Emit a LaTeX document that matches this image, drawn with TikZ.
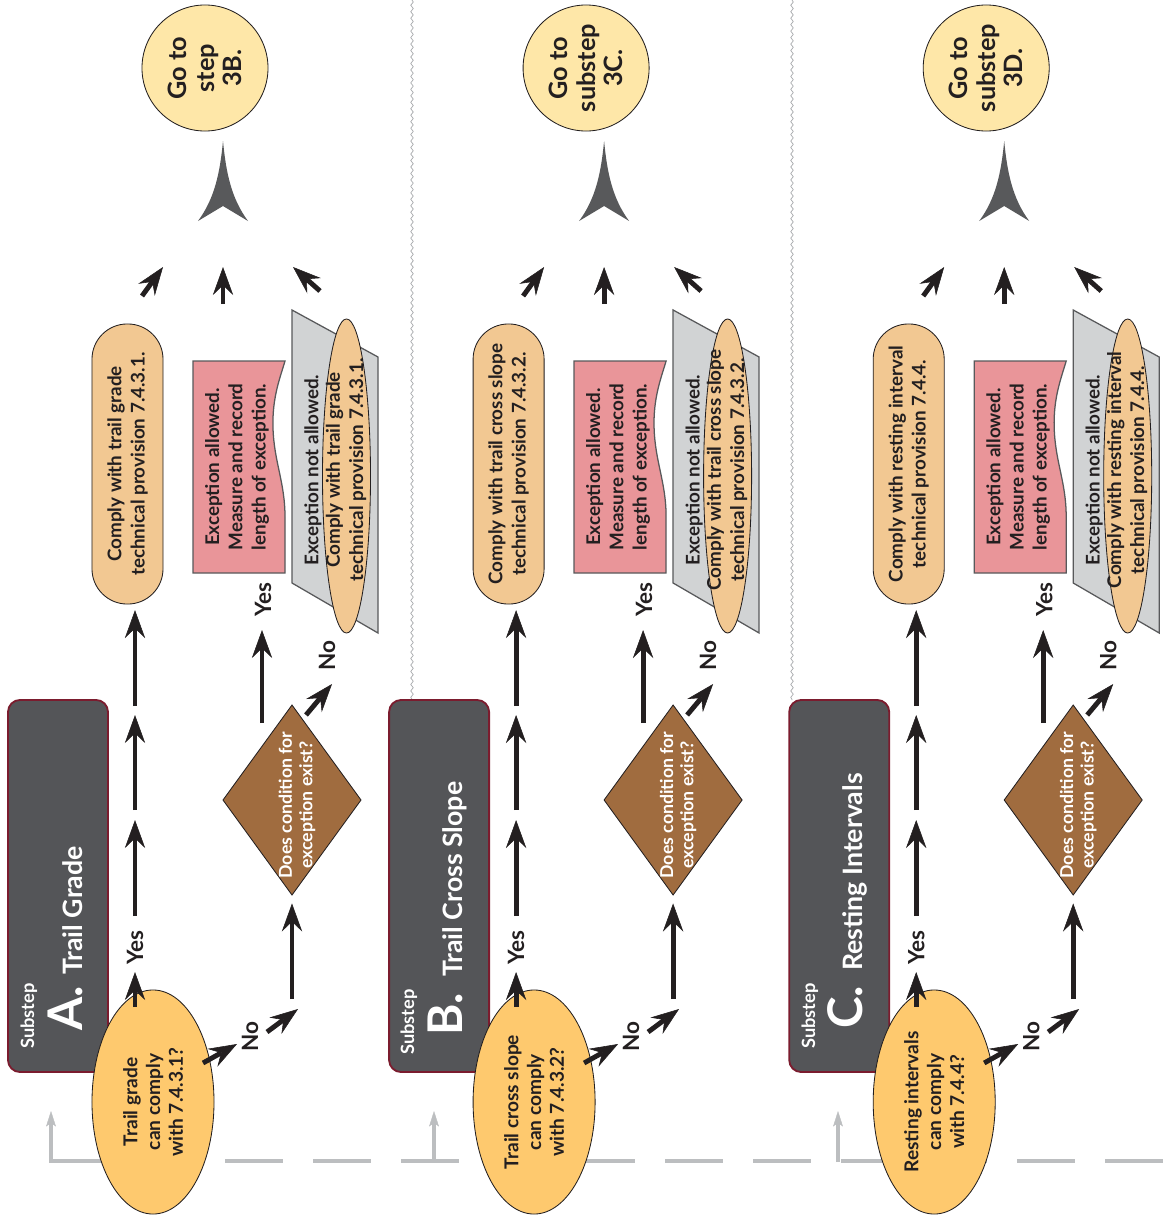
\documentclass[tikz,border=0pt]{standalone}
\usepackage{fontspec}
\setmainfont{Lato}
\usetikzlibrary{arrows.meta,decorations.pathmorphing,shapes.geometric}
\definecolor{dkgray}{HTML}{545558}
\definecolor{maroonc}{HTML}{7B1C2E}
\definecolor{decfill}{HTML}{FEC96E}
\definecolor{peach}{HTML}{F2C892}
\definecolor{pinkdoc}{HTML}{E99599}
\definecolor{graydoc}{HTML}{D1D3D4}
\definecolor{brownd}{HTML}{A06C3F}
\definecolor{circfill}{HTML}{FEE7A8}
\definecolor{arrowgray}{HTML}{58595B}
\definecolor{ink}{HTML}{231F20}
\definecolor{dashgray}{HTML}{BCBEC0}
\definecolor{wavegray}{HTML}{A7A9AC}
\newcommand\bodyfont{\fontsize{13.4}{16.5}\selectfont\bfseries}
\newcommand\decfont{\fontsize{13.6}{16.2}\selectfont\bfseries}
\newcommand\circfont{\fontsize{18}{19.5}\selectfont\bfseries}
\newcommand\diafont{\fontsize{12.6}{14.5}\selectfont\bfseries}
\newcommand\lblfont{\fontsize{16}{18}\selectfont\bfseries}
\newcommand\subsfont{\fontsize{13}{15}\selectfont\bfseries}
\newcommand\letfont{\fontsize{34}{36}\selectfont\bfseries}
\newcommand\ttlfont{\fontsize{19}{22}\selectfont\bfseries}
\tikzset{
  flow/.style={draw=ink, line width=3.5pt, -{Stealth[length=20pt,width=14.5pt,inset=7pt,line width=0.4pt]}},
  retline/.style={draw=dashgray, line width=2.4pt, -{Stealth[length=11pt,width=7pt,inset=2.5pt,line width=0.3pt]}},
  txt/.style={rotate=90, align=center, font=\bodyfont, text=ink, inner sep=0pt},
  lbl/.style={rotate=90, font=\lblfont, text=ink, inner sep=0pt},
  gocirc/.style={circle, draw=ink, line width=0.6pt, fill=circfill, minimum size=3.15cm, inner sep=0pt, rotate=90, align=center, font=\circfont, text=ink},
  stadium/.style={rectangle, rounded corners=0.88cm, draw=ink, line width=0.6pt, fill=peach, minimum width=7cm, minimum height=1.775cm, rotate=90, align=center, font=\bodyfont, text=ink, inner sep=0pt},
  decision/.style={ellipse, draw=ink, line width=0.6pt, fill=decfill, minimum width=5.6cm, minimum height=3.05cm, rotate=90, align=center, font=\decfont, text=ink, inner sep=0pt},
  okell/.style={ellipse, draw=ink, line width=0.6pt, fill=peach, minimum width=7.85cm, minimum height=1.2cm, rotate=90, inner sep=0pt},
  docline/.style={draw=arrowgray, line width=0.9pt},
  titlebox/.style={rectangle, rounded corners=0.3cm, draw=maroonc, line width=1.3pt, fill=dkgray, minimum width=2.5cm, minimum height=9.3cm, inner sep=0pt},
  ttl/.style={rotate=90, anchor=base west, text=white, inner sep=0pt},
  diam/.style={draw=ink, line width=0.6pt, fill=brownd},
}
% #1 xshift, #2 prefix, #3 circle text, #4 comply text, #5 decision text
\newcommand\drawcolumn[5]{%
\begin{scope}[xshift=#1]
  \node[gocirc] (#2go) at (205,68) {#3};
  \fill[arrowgray] (223,141) .. controls (226,172) and (231,198) .. (248,221) -- (223,206) -- (198,221) .. controls (215,198) and (220,172) .. (223,141);
  \coordinate (#2cl0) at (142,296); \coordinate (#2cl1) at (163,267);
  \coordinate (#2cm0) at (223,304); \coordinate (#2cm1) at (223,267);
  \coordinate (#2cr0) at (320,291); \coordinate (#2cr1) at (293,267);
  \draw[flow] (#2cl0) -- (#2cl1);
  \draw[flow] (#2cm0) -- (#2cm1);
  \draw[flow] (#2cr0) -- (#2cr1);
  \node[stadium] (#2ok) at (127.5,464) {#4};
  \filldraw[docline, fill=pinkdoc] (193,361) -- (193,573) -- (285,573) -- (285,517) .. controls (285,482) and (274,462) .. (273,428) .. controls (272,398) and (280,378) .. (285,361) -- cycle;
  \node[txt] (#2exc) at (237,467) {Exception allowed.\\Measure and record\\length of exception.};
  \filldraw[docline, fill=graydoc] (292,310) -- (378,357) -- (378,633) -- (292,583) -- cycle;
  \node[txt] (#2nal) at (313,470) {Exception not allowed.};
  \node[okell] (#2ok2) at (346.5,476) {};
  \node[txt] (#2ok2t) at (346,470) {#4};
  \coordinate (#2dt) at (292,705); \coordinate (#2dr) at (361,800);
  \coordinate (#2db) at (292,895); \coordinate (#2dl) at (223,800);
  \filldraw[diam] (#2dt) -- (#2dr) -- (#2db) -- (#2dl) -- cycle;
  \node[txt, text=white, font=\diafont] (#2q) at (297,805) {Does condition for\\exception exist?};
  \node[titlebox] (#2tb) at (58,886) {};
  \node[decision] (#2dec) at (153,1102) {#5};
  % yes chain
  \coordinate (#2y0) at (135,1007); \coordinate (#2y1) at (135,972);
  \coordinate (#2y2) at (135,916); \coordinate (#2y3) at (135,820);
  \coordinate (#2y4) at (135,810); \coordinate (#2y5) at (135,715);
  \coordinate (#2y6) at (135,706);
  \draw[flow] (#2y0) -- (#2y1);
  \node[lbl] at (135,948) {Yes};
  \draw[flow] (#2y2) -- (#2y3);
  \draw[flow] (#2y4) -- (#2y5);
  \draw[flow, shorten >=4pt] (#2y6) -- (#2y6 |- #2ok.west);
  % no chain
  \coordinate (#2n0) at (203,1063); \coordinate (#2n1) at (237,1044);
  \coordinate (#2n2) at (267,1032); \coordinate (#2n3) at (298,1009);
  \coordinate (#2n4) at (292,999);
  \draw[flow] (#2n0) -- (#2n1);
  \node[lbl] at (250,1037) {No};
  \draw[flow] (#2n2) -- (#2n3);
  \draw[flow, shorten >=6pt] (#2n4) -- (#2db);
  % diamond yes / no
  \coordinate (#2e0) at (262,723); \coordinate (#2e1) at (262,630);
  \draw[flow] (#2e0) -- (#2e1);
  \node[lbl] at (263,600) {Yes};
  \coordinate (#2f0) at (306,715); \coordinate (#2f1) at (332,684);
  \draw[flow] (#2f0) -- (#2f1);
  \node[lbl] at (327,656) {No};
\end{scope}}

\begin{document}
\begin{tikzpicture}[x=0.025cm, y=-0.025cm]
\useasboundingbox (0,0) rectangle (1164,1217);
% separators
\draw[wavegray, line width=0.5pt, decorate, decoration={snake, amplitude=0.9pt, segment length=4.6pt}] (412,0) -- (412,702);
\draw[wavegray, line width=0.5pt, decorate, decoration={snake, amplitude=0.9pt, segment length=4.6pt}] (792,0) -- (792,700);
% return lines
\draw[dashgray, line width=2.8pt, dash pattern=on 1.45cm off 0.75cm] (49,1161) -- (1164,1161);
\coordinate (ra0) at (51,1162); \coordinate (ra1) at (51,1111);
\coordinate (rb0) at (434,1162); \coordinate (rb1) at (434,1111);
\coordinate (rc0) at (838,1162); \coordinate (rc1) at (838,1111);
\draw[retline] (ra0) -- (ra1);
\draw[retline] (rb0) -- (rb1);
\draw[retline] (rc0) -- (rc1);

\drawcolumn{0cm}{A}{Go to\\step\\3B.}{Comply with trail grade\\technical provision 7.4.3.1.}{Trail grade\\can comply\\with 7.4.3.1?}
\drawcolumn{9.525cm}{B}{Go to\\substep\\3C.}{Comply with trail cross slope\\technical provision 7.4.3.2.}{Trail cross slope\\can comply\\with 7.4.3.2?}
\drawcolumn{19.525cm}{C}{Go to\\substep\\3D.}{Comply with resting interval\\technical provision 7.4.4.}{Resting intervals\\can comply\\with 7.4.4?}

% titles
\node[ttl, font=\subsfont] (Asub) at (34,1049) {Substep};
\node[ttl, font=\letfont] (Alet) at (82,1031) {A.};
\node[ttl, font=\ttlfont] (Attl) at (82,975) {Trail Grade};
\node[ttl, font=\subsfont] (Bsub) at (414,1055) {Substep};
\node[ttl, font=\letfont] (Blet) at (462,1036) {B.};
\node[ttl, font=\ttlfont] (Bttl) at (462,977) {Trail Cross Slope};
\node[ttl, font=\subsfont] (Csub) at (815,1049) {Substep};
\node[ttl, font=\letfont] (Clet) at (862,1029) {C.};
\node[ttl, font=\ttlfont] (Cttl) at (862,971) {Resting Intervals};
\end{tikzpicture}
\end{document}
